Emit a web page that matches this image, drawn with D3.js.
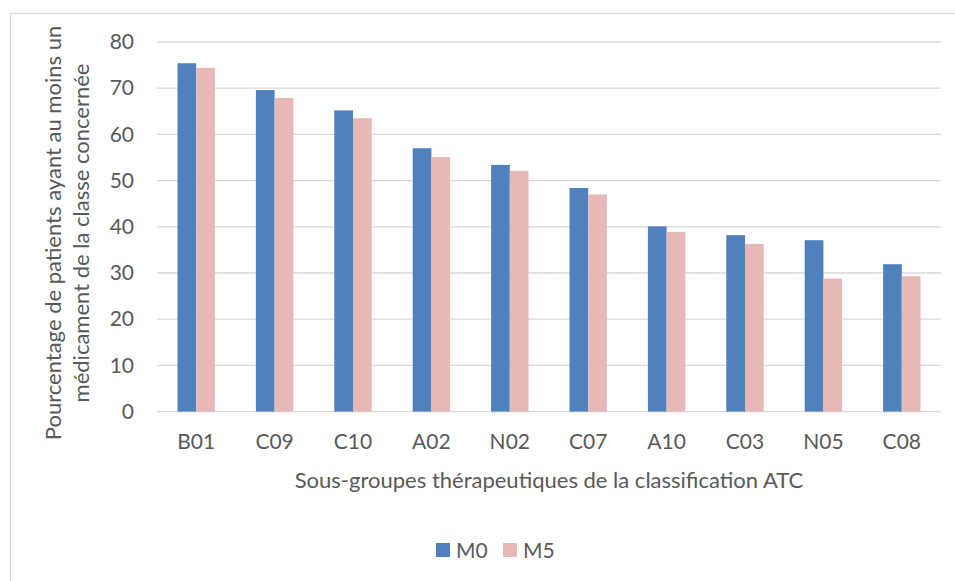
<!DOCTYPE html>
<html>
<head>
<meta charset="utf-8">
<script src="https://cdn.jsdelivr.net/npm/d3@7/dist/d3.min.js"></script>
<style>
  html, body { margin: 0; padding: 0; background: #fff; }
  svg { display: block; font-family: Lato, "Open Sans", sans-serif; }
</style>
</head>
<body>
<svg id="chart" width="955" height="581"></svg>
<script>
// ATC therapeutic subgroups and the share of patients (%) with at least one drug of the class
const categories = ["B01", "C09", "C10", "A02", "N02", "C07", "A10", "C03", "N05", "C08"];
const seriesNames = ["M0", "M5"];
const valuesM0 = [75.4, 69.6, 65.2, 57.0, 53.4, 48.4, 40.1, 38.2, 37.1, 31.9];
const valuesM5 = [74.4, 67.9, 63.5, 55.1, 52.1, 47.0, 38.9, 36.3, 28.8, 29.3];
const yTicks = [0, 10, 20, 30, 40, 50, 60, 70, 80];
const colors = ["#4f81bd", "#e6b9b8"];

const svg = d3.select("#chart");
const textColor = "#595959";
const gridColor = "#d9d9d9";
const font = "Lato, 'Open Sans', sans-serif";

// outer frame of the chart area
svg.append("rect")
  .attr("x", 10.5).attr("y", 13.5)
  .attr("width", 1000).attr("height", 700)
  .attr("fill", "none").attr("stroke", gridColor).attr("stroke-width", 1.3);

const plot = { left: 157, right: 941, top: 42, bottom: 411.6 };

const x0 = d3.scaleBand()
  .domain(categories)
  .range([plot.left, plot.right])
  .paddingInner(0.523)
  .paddingOuter(0.2615);

const x1 = d3.scaleBand()
  .domain(seriesNames)
  .range([0, x0.bandwidth()]);

const y = d3.scaleLinear()
  .domain([0, 80])
  .range([plot.bottom, plot.top]);

// horizontal gridlines
svg.append("g")
  .selectAll("line")
  .data(yTicks)
  .join("line")
  .attr("x1", plot.left).attr("x2", plot.right)
  .attr("y1", d => y(d)).attr("y2", d => y(d))
  .attr("stroke", gridColor).attr("stroke-width", 1.3);

// y axis tick labels
const yAxis = d3.axisLeft(y).tickValues(yTicks).tickSize(0).tickPadding(0);
const gy = svg.append("g").attr("transform", `translate(134,0)`).call(yAxis);
gy.select(".domain").remove();
gy.selectAll("text")
  .attr("fill", textColor)
  .style("font-size", "21px")
  .style("font-family", font);

// x axis category labels
const xAxis = d3.axisBottom(x0).tickSize(0).tickPadding(0);
const gx = svg.append("g").attr("transform", `translate(0,449)`).call(xAxis);
gx.select(".domain").remove();
gx.selectAll("text")
  .attr("y", 0).attr("dy", null)
  .attr("fill", textColor)
  .style("font-size", "21px")
  .style("font-family", font);

// grouped bars
const series = [valuesM0, valuesM5];
const groups = svg.append("g")
  .selectAll("g")
  .data(categories.map((c, i) => ({ cat: c, vals: series.map((s, k) => ({ name: seriesNames[k], value: s[i], k })) })))
  .join("g")
  .attr("transform", d => `translate(${x0(d.cat)},0)`);

groups.selectAll("rect")
  .data(d => d.vals)
  .join("rect")
  .attr("x", d => x1(d.name))
  .attr("width", x1.bandwidth())
  .attr("y", d => y(d.value))
  .attr("height", d => y(0) - y(d.value))
  .attr("fill", d => colors[d.k]);

// axis titles
svg.append("text")
  .attr("x", (plot.left + plot.right) / 2)
  .attr("y", 488)
  .attr("text-anchor", "middle")
  .attr("fill", textColor)
  .style("font-size", "22px")
  .text("Sous-groupes thérapeutiques de la classification ATC");

const yTitle = svg.append("text")
  .attr("transform", "translate(0,233) rotate(-90)")
  .attr("text-anchor", "middle")
  .attr("fill", textColor)
  .style("font-size", "22px");
yTitle.append("tspan").attr("x", 0).attr("y", 61).text("Pourcentage de patients ayant au moins un");
yTitle.append("tspan").attr("x", 0).attr("y", 89).text("médicament de la classe concernée");

// legend
const legend = svg.append("g").attr("transform", "translate(436,543)");
const items = legend.selectAll("g")
  .data(seriesNames)
  .join("g")
  .attr("transform", (d, i) => `translate(${i * 67},0)`);
items.append("rect")
  .attr("width", 14).attr("height", 14)
  .attr("fill", (d, i) => colors[i]);
items.append("text")
  .attr("x", 20).attr("y", 15)
  .attr("fill", textColor)
  .style("font-size", "21px")
  .text(d => d);
</script>
</body>
</html>
